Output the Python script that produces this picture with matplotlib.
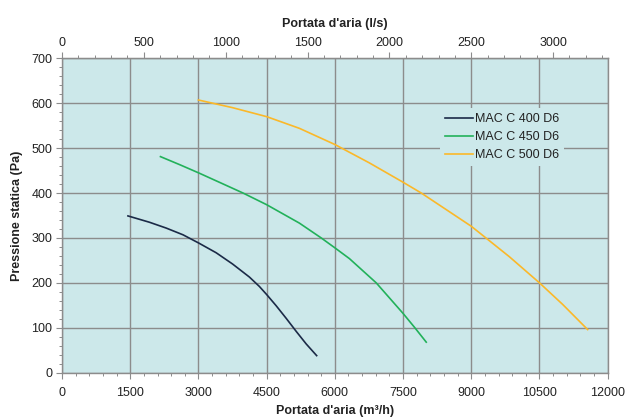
import matplotlib.pyplot as plt
from matplotlib.ticker import MultipleLocator, FixedLocator

plt.rcParams["font.family"] = ["Liberation Sans", "DejaVu Sans"]

# portata (m3/h) and pressione statica (Pa)
q_400 = [1450, 1920, 2290, 2660, 3000, 3390, 3750, 4120, 4340, 4500, 4710, 4930, 5150, 5370, 5600]
p_400 = [349, 335, 322, 307, 289, 267, 242, 213, 192, 174, 149, 121, 92, 64, 38]

q_450 = [2165, 2590, 3000, 3480, 3980, 4500, 5220, 5700, 6000, 6320, 6910, 7500, 7760, 8010]
p_450 = [481, 463, 445, 423, 400, 374, 333, 300, 278, 254, 200, 132, 100, 68]

q_500 = [3000, 3750, 4500, 5220, 6000, 6760, 7500, 7900, 9000, 9260, 9840, 10500, 11010, 11560]
p_500 = [607, 590, 570, 544, 508, 467, 424, 400, 326, 305, 258, 200, 152, 96]

labels = ["MAC C 400 D6", "MAC C 450 D6", "MAC C 500 D6"]
colors = ["#1b2a47", "#22b15a", "#fbb829"]

top_ticks = [0, 500, 1000, 1500, 2000, 2500, 3000]

bg = "#cce8ea"
grid_col = "#8c8c8c"
txt = "#222222"

fig = plt.figure(figsize=(6.29, 4.19), dpi=100)
ax = fig.add_axes([0.0986, 0.1105, 0.8675, 0.7505])
ax.set_facecolor(bg)

for q, p, lab, c in zip([q_400, q_450, q_500], [p_400, p_450, p_500], labels, colors):
    ax.plot(q, p, color=c, lw=1.2, label=lab, zorder=3, solid_joinstyle="round")

ax.set_xlim(0, 12000)
ax.set_ylim(0, 700)
ax.xaxis.set_major_locator(MultipleLocator(1500))
ax.xaxis.set_minor_locator(MultipleLocator(300))
ax.yaxis.set_major_locator(MultipleLocator(100))
ax.yaxis.set_minor_locator(MultipleLocator(20))
ax.grid(True, which="major", color=grid_col, lw=1.0, zorder=1)
ax.set_axisbelow(True)

for s in ax.spines.values():
    s.set_color(grid_col)
    s.set_linewidth(1.0)

ax.tick_params(which="major", length=4, width=0.8, color=grid_col, labelsize=9, labelcolor=txt, pad=3)
ax.tick_params(which="minor", length=2.5, width=0.7, color=grid_col)
ax.tick_params(axis="x", which="major", pad=6.5)

ax.set_xlabel("Portata d'aria (m³/h)", fontsize=9, fontweight="bold", color=txt, labelpad=4)
ax.set_ylabel("Pressione statica (Pa)", fontsize=9, fontweight="bold", color=txt, labelpad=6)

top = ax.secondary_xaxis("top", functions=(lambda x: x / 3.6, lambda x: x * 3.6))
top.xaxis.set_major_locator(FixedLocator(top_ticks))
top.xaxis.set_minor_locator(MultipleLocator(100))
top.tick_params(which="major", length=4, width=0.8, color=grid_col, labelsize=9, labelcolor=txt, pad=3)
top.tick_params(which="minor", length=2.5, width=0.7, color=grid_col)
top.spines["top"].set_color(grid_col)
top.set_xlabel("Portata d'aria (l/s)", fontsize=9, fontweight="bold", color=txt, labelpad=7)

leg = ax.legend(loc="upper left", bbox_to_anchor=(0.692, 0.842), borderaxespad=0,
                frameon=True, fontsize=9, handlelength=2.3, handletextpad=0.1,
                borderpad=0.4, labelspacing=0.5, fancybox=False)
leg.get_frame().set_facecolor(bg)
leg.get_frame().set_edgecolor("none")
leg.get_frame().set_alpha(1)
for t in leg.get_texts():
    t.set_color(txt)

fig.savefig("out.png", dpi=100)
